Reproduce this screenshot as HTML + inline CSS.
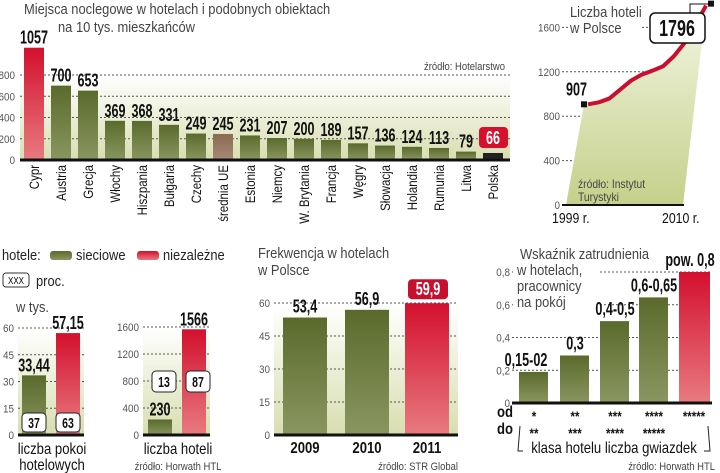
<!DOCTYPE html>
<html><head><meta charset="utf-8">
<style>
body{margin:0;background:#fff;}
svg{display:block;font-family:"Liberation Sans",sans-serif;}
.t{fill:#555;font-size:11px;}
.lbl{fill:#111;font-size:14px;}
.val{fill:#111;font-size:18px;font-weight:bold;}
.ttl{fill:#444;font-size:15px;}
.src{fill:#444;font-size:11px;}
.grid{stroke:#555;stroke-width:1;stroke-dasharray:2,2;}
</style></head><body>
<svg id="c" width="720" height="473" viewBox="0 0 720 473">
<defs>
<linearGradient id="bg" x1="0" y1="0" x2="0" y2="1"><stop offset="0" stop-color="#fff"/><stop offset="1" stop-color="#d8deb0"/></linearGradient>
<linearGradient id="gr" x1="0" y1="0" x2="0" y2="1"><stop offset="0" stop-color="#5a6a2c"/><stop offset="1" stop-color="#8a9660"/></linearGradient>
<linearGradient id="rd" x1="0" y1="0" x2="0" y2="1"><stop offset="0" stop-color="#d4102e"/><stop offset="1" stop-color="#e87a80"/></linearGradient>
<linearGradient id="br" x1="0" y1="0" x2="0" y2="1"><stop offset="0" stop-color="#8a6a50"/><stop offset="1" stop-color="#a58a78"/></linearGradient>
<linearGradient id="ar" x1="0" y1="0" x2="0" y2="1"><stop offset="0" stop-color="#f4f6e4"/><stop offset="1" stop-color="#c4d08a"/></linearGradient>
</defs>
<g id="g1"></g>
<g id="g2"></g>
<g id="g3"></g>
<g id="g4"></g>
<g id="g5"></g>
</svg>
<script>
const countries=["Cypr","Austria","Grecja","Włochy","Hiszpania","Bułgaria","Czechy","średnia UE","Estonia","Niemcy","W. Brytania","Francja","Węgry","Słowacja","Holandia","Rumunia","Litwa","Polska"];
const beds=[1057,700,653,369,368,331,249,245,231,207,200,189,157,136,124,113,79,66];
const bedTicks=[0,200,400,600,800];
const hotelYears=[1999,2000,2001,2002,2003,2004,2005,2006,2007,2008,2009,2010];
const hotelCounts=[907,925,960,1040,1120,1175,1210,1250,1340,1460,1620,1796];
const hotelTicks=[0,400,800,1200,1600];
const roomCats=["sieciowe","niezależne"];
const roomVals=[33.44,57.15];
const roomLabels=["33,44","57,15"];
const roomPct=["37","63"];
const roomTicks=[0,15,30,45,60];
const hotVals=[230,1566];
const hotLabels=["230","1566"];
const hotPct=["13","87"];
const hotTicks=[0,400,800,1200,1600];
const occYears=["2009","2010","2011"];
const occVals=[53.4,56.9,59.9];
const occLabels=["53,4","56,9","59,9"];
const occTicks=[0,15,30,45,60];
const empVals=[0.19,0.29,0.5,0.645,0.8];
const empLabels=["0,15-02","0,3","0,4-0,5","0,6-0,65","pow. 0,8"];
const empFrom=["*","**","***","****","*****"];
const empTo=["**","***","****","*****",""];
const empTicks=[0,0.2,0.4,0.6,0.8];

const NS="http://www.w3.org/2000/svg";
function mk(p,tag,a,txt){const e=document.createElementNS(NS,tag);for(const k in a)e.setAttribute(k,a[k]);if(txt!==undefined)e.textContent=txt;p.appendChild(e);return e;}

// Chart 1
(function(){
const g=document.getElementById('g1');
const y=v=>160-v*0.10625, x=i=>24+i*27;
let t=mk(g,'text',{x:24,y:14,class:'ttl'},'Miejsca noclegowe w hotelach i podobnych obiektach');

mk(g,'text',{x:58,y:32,class:'ttl'},'na 10 tys. mieszkańców');
mk(g,'rect',{x:20,y:75,width:490,height:85,fill:'url(#bg)'});
bedTicks.forEach(v=>{
 const tk=mk(g,'text',{x:15,y:y(v)+4,class:'t','text-anchor':'end'},v);
 
 if(v>0)mk(g,'line',{x1:20,x2:510,y1:y(v),y2:y(v),class:'grid'});
});
mk(g,'text',{x:505,y:70,class:'src','text-anchor':'end'},'źródło: Hotelarstwo');
beds.forEach((v,i)=>{
 const f=i==0?'url(#rd)':i==7?'url(#br)':i==17?'#222':'url(#gr)';
 const b=mk(g,'rect',{x:x(i),y:y(v),width:20,height:v*0.10625,fill:f});
 
 if(i==17){mk(g,'rect',{x:x(i)-4,y:y(v)-26,width:29,height:21,rx:4,fill:'#d4102e'});
  mk(g,'text',{x:x(i)+10,y:y(v)-9,class:'val','text-anchor':'middle',style:'fill:#fff'},v);}
 else mk(g,'text',{x:x(i)+10,y:y(v)-4,class:'val','text-anchor':'middle'},v);
 const l=mk(g,'text',{x:0,y:0,class:'lbl','text-anchor':'end',transform:`translate(${x(i)+15},165) rotate(-90)`},countries[i]);
 
});
mk(g,'line',{x1:20,x2:510,y1:160,y2:160,stroke:'#111','stroke-width':3});
})();

// Chart 2
(function(){
const g=document.getElementById('g2');
const y=v=>205-v*0.111, x=i=>588+i*(118/11);
hotelTicks.forEach(v=>{
 mk(g,'text',{x:560,y:y(v)+4,class:'t','text-anchor':'end'},v);
 mk(g,'line',{x1:562,x2:680,y1:y(v),y2:y(v),class:'grid'});
});
mk(g,'rect',{x:568,y:4,width:72,height:32,fill:'#fff'});
mk(g,'text',{x:570,y:17,class:'ttl'},'Liczba hoteli');
mk(g,'text',{x:570,y:33,class:'ttl'},'w Polsce');
const n=hotelCounts.length-1;
const pts=hotelCounts.map((v,i)=>x(i)+','+y(v)).join(' ');
mk(g,'polygon',{points:`566,205 ${x(0)-4},${y(hotelCounts[0])} ${pts} 683,205`,fill:'url(#ar)'});
const p=mk(g,'polyline',{points:pts,fill:'none',stroke:'#c8102e','stroke-width':4,'stroke-linejoin':'round'});

mk(g,'rect',{x:x(0)-7,y:y(hotelCounts[0])-3,width:6,height:6,fill:'#111'});
mk(g,'rect',{x:x(n)+2,y:y(hotelCounts[n])-5,width:6,height:6,fill:'#111'});
mk(g,'text',{x:566,y:y(hotelCounts[0])-9,class:'val'},hotelCounts[0]);
mk(g,'polyline',{points:`690,13 690,4 ${x(n)+2},4`,fill:'none',stroke:'#111'});
mk(g,'rect',{x:650,y:13,width:55,height:30,rx:5,fill:'#fff',stroke:'#111','stroke-width':1.5});
mk(g,'text',{x:677,y:36,class:'val','text-anchor':'middle',style:'font-size:23px'},hotelCounts[n]);
mk(g,'line',{x1:562,x2:684,y1:205,y2:205,stroke:'#111','stroke-width':2});
mk(g,'text',{x:578,y:188,class:'src',style:'font-size:12px'},'źródło: Instytut');
mk(g,'text',{x:578,y:201,class:'src',style:'font-size:12px'},'Turystyki');
mk(g,'text',{x:552,y:223,class:'lbl',style:'font-size:15px'},hotelYears[0]+' r.');
mk(g,'text',{x:662,y:223,class:'lbl',style:'font-size:15px'},hotelYears[n]+' r.');
})();

// Chart 3
(function(){
const g=document.getElementById('g3');
mk(g,'text',{x:2,y:260,class:'ttl',style:'fill:#222'},'hotele:');
mk(g,'rect',{x:50,y:251,width:22,height:9,rx:3,fill:'url(#gr)'});
mk(g,'text',{x:76,y:260,class:'ttl',style:'fill:#222'},roomCats[0]);
mk(g,'rect',{x:137,y:251,width:22,height:9,rx:3,fill:'url(#rd)'});
mk(g,'text',{x:163,y:260,class:'ttl',style:'fill:#222'},roomCats[1]);
mk(g,'rect',{x:3,y:273,width:26,height:14,rx:3,fill:'#fff',stroke:'#333'});
mk(g,'text',{x:16,y:284,'text-anchor':'middle',style:'font-size:10px'},'XXX');
mk(g,'text',{x:36,y:286,class:'ttl',style:'fill:#222'},'proc.');
mk(g,'text',{x:16,y:312,class:'ttl',style:'fill:#444'},'w tys.');
function sub(x0,x1,barX,ticks,k,vals,labels,tickX){
 const y=v=>435-v*k;
 mk(g,'rect',{x:x0,y:y(ticks[ticks.length-1]),width:x1-x0,height:ticks[ticks.length-1]*k,fill:'url(#bg)'});
 ticks.forEach(v=>{mk(g,'text',{x:tickX,y:y(v)+4,class:'t','text-anchor':'end'},v);
  if(v>0)mk(g,'line',{x1:x0,x2:x1,y1:y(v),y2:y(v),class:'grid'});});
 vals.forEach((v,i)=>{
  const b=mk(g,'rect',{x:barX[i],y:y(v),width:24,height:v*k,fill:i?'url(#rd)':'url(#gr)'});
  
  mk(g,'text',{x:barX[i]+12,y:y(v)-4,class:'val','text-anchor':'middle'},labels[i]);
 });
 mk(g,'line',{x1:x0,x2:x1,y1:435,y2:435,stroke:'#111','stroke-width':3});
}
sub(18,84,[22,56],roomTicks,107/60,roomVals,roomLabels,14);
[0,1].forEach(i=>{const bx=[22,56][i];mk(g,'rect',{x:bx,y:413,width:24,height:19,rx:4,fill:'#fff',stroke:'#222'});
 mk(g,'text',{x:bx+12,y:428,class:'val','text-anchor':'middle',style:'font-size:15px'},roomPct[i]);});
sub(143,210,[148,182],hotTicks,108/1600,hotVals,hotLabels,139);
[0,1].forEach(i=>{const bx=[148,182][i];mk(g,'rect',{x:bx+4,y:371,width:24,height:21,rx:4,fill:'#fff',stroke:'#222'});
 mk(g,'text',{x:bx+16,y:387,class:'val','text-anchor':'middle',style:'font-size:15px'},hotPct[i]);});
mk(g,'text',{x:52,y:454,class:'lbl','text-anchor':'middle',style:'font-size:16px'},'liczba pokoi');
mk(g,'text',{x:52,y:470,class:'lbl','text-anchor':'middle',style:'font-size:16px'},'hotelowych');
mk(g,'text',{x:178,y:454,class:'lbl','text-anchor':'middle',style:'font-size:16px'},'liczba hoteli');
mk(g,'text',{x:178,y:470,class:'src','text-anchor':'middle'},'źródło: Horwath HTL');
})();

// Chart 4
(function(){
const g=document.getElementById('g4');
const y=v=>435-v*(132/60), bx=[283,345,405];
mk(g,'text',{x:258,y:258,class:'ttl'},'Frekwencja w hotelach');
mk(g,'text',{x:258,y:275,class:'ttl'},'w Polsce');
mk(g,'rect',{x:274,y:303,width:184,height:132,fill:'url(#bg)'});
occTicks.forEach(v=>{mk(g,'text',{x:270,y:y(v)+4,class:'t','text-anchor':'end'},v);
 if(v>0)mk(g,'line',{x1:274,x2:458,y1:y(v),y2:y(v),class:'grid'});});
occVals.forEach((v,i)=>{
 const b=mk(g,'rect',{x:bx[i],y:y(v),width:44,height:v*132/60,fill:i==2?'url(#rd)':'url(#gr)'});
 
 if(i==2){mk(g,'rect',{x:bx[i]+3,y:y(v)-24,width:40,height:20,rx:4,fill:'#c8102e'});
  mk(g,'text',{x:bx[i]+23,y:y(v)-8,class:'val','text-anchor':'middle',style:'fill:#fff'},occLabels[i]);}
 else mk(g,'text',{x:bx[i]+22,y:y(v)-5,class:'val','text-anchor':'middle'},occLabels[i]);
 mk(g,'text',{x:bx[i]+22,y:453,class:'lbl','text-anchor':'middle',style:'font-size:16px;font-weight:bold'},occYears[i]);
});
mk(g,'line',{x1:274,x2:458,y1:435,y2:435,stroke:'#111','stroke-width':3});
mk(g,'text',{x:458,y:470,class:'src','text-anchor':'end'},'źródło: STR Global');
})();

// Chart 5
(function(){
const g=document.getElementById('g5');
const y=v=>403-v*(131/0.8), bx=[519,560,600,639,679];
empTicks.forEach(v=>{mk(g,'text',{x:510,y:y(v)+4,class:'t','text-anchor':'end'},String(v).replace('.',','));
 if(v>0)mk(g,'line',{x1:512,x2:712,y1:y(v),y2:y(v),class:'grid'});});
mk(g,'rect',{x:513,y:245,width:132,height:12,fill:'#fff'});
mk(g,'rect',{x:513,y:257,width:85,height:64,fill:'#fff'});
['Wskaźnik zatrudnienia','w hotelach,','pracownicy','na pokój'].forEach((s,i)=>mk(g,'text',{x:i?517:520,y:259+i*16,class:'ttl'},s));
empVals.forEach((v,i)=>{
 const b=mk(g,'rect',{x:bx[i],y:y(v),width:i==4?31:29,height:v*131/0.8,fill:i==4?'url(#rd)':'url(#gr)'});
 
 mk(g,'text',{x:bx[i]+15+(i==0?-8:0)+(i==4?-4:0),y:y(v)-6,class:'val','text-anchor':'middle'},empLabels[i]);
 mk(g,'text',{x:bx[i]+15,y:421,class:'lbl','text-anchor':'middle',style:'font-weight:bold'},empFrom[i]);
 mk(g,'text',{x:bx[i]+15,y:438,class:'lbl','text-anchor':'middle',style:'font-weight:bold'},empTo[i]);
});
mk(g,'line',{x1:512,x2:712,y1:403,y2:403,stroke:'#111','stroke-width':3});
mk(g,'text',{x:497,y:417,class:'lbl',style:'font-size:16px;font-weight:bold'},'od');
mk(g,'text',{x:497,y:434,class:'lbl',style:'font-size:16px;font-weight:bold'},'do');
mk(g,'text',{x:614,y:453,class:'lbl','text-anchor':'middle',style:'font-size:16px'},'klasa hotelu liczba gwiazdek');
mk(g,'polyline',{points:'520,426 518,451 523,451',fill:'none',stroke:'#222'});
mk(g,'polyline',{points:'708,426 710,451 704,451',fill:'none',stroke:'#222'});
mk(g,'text',{x:715,y:470,class:'src','text-anchor':'end'},'źródło: Horwath HTL');
})();

// condense text to mimic narrow typeface
const ratios={val:0.7,lbl:0.82,ttl:0.86,src:0.86,t:0.9};
document.querySelectorAll('#c text').forEach(t=>{
 const r=ratios[t.getAttribute('class')]||0.8;
 const L=t.getComputedTextLength();
 if(L>0){t.setAttribute('textLength',(L*r).toFixed(1));t.setAttribute('lengthAdjust','spacingAndGlyphs');}
});
</script>
</body></html>
